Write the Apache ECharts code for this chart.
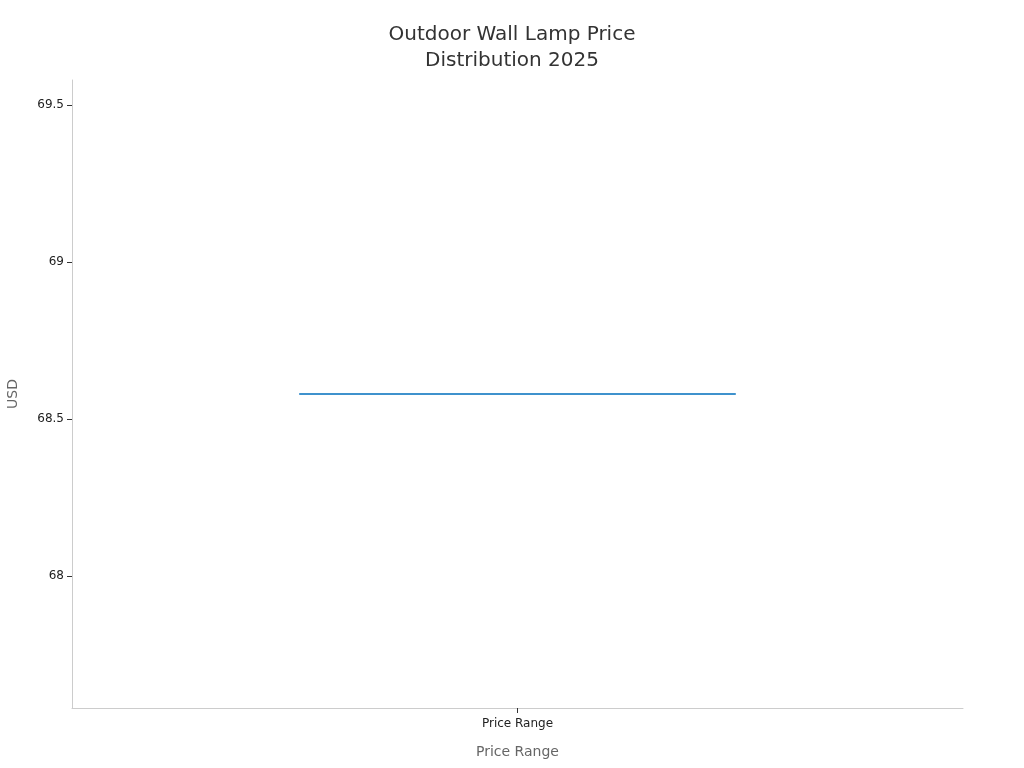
<!DOCTYPE html>
<html>
<head>
<meta charset="utf-8">
<script src="https://cdn.jsdelivr.net/npm/echarts@6/dist/echarts.min.js"></script>
<style>html,body{margin:0;padding:0;background:#fff}#c{width:1024px;height:768px}</style>
</head>
<body>
<div id="c"></div>
<script>
const categories = ['Price Range'];
// [min, Q1, median, Q3, max]
const boxValues = [[68.58, 68.58, 68.58, 68.58, 68.58]];
const yTicks = [68, 68.5, 69, 69.5];
const yMin = 67.58, yMax = 69.58;

const chart = echarts.init(document.getElementById('c'));
chart.setOption({
  animation: false,
  textStyle: { fontFamily: 'DejaVu Sans' },
  title: {
    text: 'Outdoor Wall Lamp Price\nDistribution 2025',
    left: 'center', top: 17,
    textStyle: { fontSize: 20, fontWeight: 'normal', color: '#333', lineHeight: 26, fontFamily: 'DejaVu Sans', align: 'center' }
  },
  grid: { left: 72, right: 61, top: 80, bottom: 60, containLabel: false, outerBoundsMode: 'none' },
  xAxis: {
    type: 'category', data: categories,
    name: 'Price Range', nameLocation: 'middle', nameGap: 37,
    nameTextStyle: { fontSize: 14, color: '#666' },
    axisLine: { lineStyle: { color: '#ccc' } },
    axisTick: { show: true, alignWithLabel: true, interval: 0, length: 5, customValues: [0], lineStyle: { color: '#333' } },
    axisLabel: { fontSize: 12, color: '#222', margin: 10 },
    splitLine: { show: false }
  },
  yAxis: {
    type: 'value', min: yMin, max: yMax,
    name: 'USD', nameLocation: 'middle', nameGap: 52,
    nameTextStyle: { fontSize: 14, color: '#666' },
    axisLine: { show: true, lineStyle: { color: '#ccc' } },
    axisTick: { show: true, length: 5, customValues: yTicks, lineStyle: { color: '#333' } },
    axisLabel: { fontSize: 12, color: '#222', customValues: yTicks, margin: 8 },
    splitLine: { show: false }
  },
  series: [{
    type: 'boxplot',
    data: boxValues,
    boxWidth: ['49%', '49%'],
    itemStyle: { color: '#fff', borderColor: '#3f92cd', borderWidth: 2 }
  }]
});
</script>
</body>
</html>
